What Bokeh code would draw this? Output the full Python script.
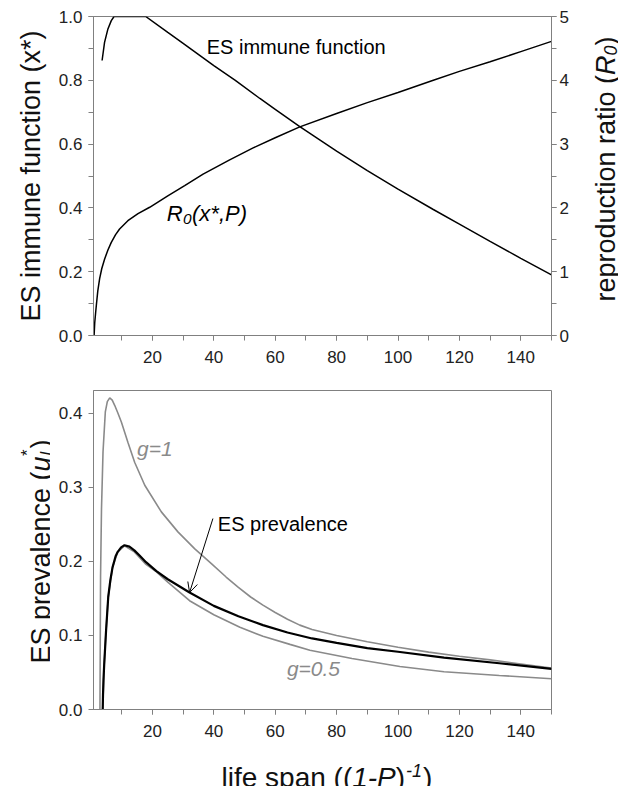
import math
from bokeh.plotting import figure
from bokeh.models import (Range1d, LinearAxis, SingleIntervalTicker, Label,
                          Arrow, OpenHead, PrintfTickFormatter)
from bokeh.layouts import column, row
from bokeh.embed import file_html
from bokeh.resources import INLINE

# ---------------- data ----------------
# top panel: ES immune function x* (left axis)
xs_life = [3.6, 4.4, 5.5, 6.6, 7.5, 10, 15, 17.8, 25, 30, 40, 47, 55, 60, 68,
           80, 90, 100, 111.5, 120, 130, 140, 150]
xs_val = [0.862, 0.919, 0.961, 0.987, 1.0, 1.0, 1.0, 1.0, 0.950, 0.916, 0.846,
          0.800, 0.743, 0.709, 0.655, 0.578, 0.517, 0.459, 0.395, 0.349, 0.295,
          0.242, 0.190]

# top panel: reproduction ratio R0 (right axis)
r0_life = [1.0, 1.2, 1.5, 1.72, 2.2, 2.8, 3.5, 4.43, 5.5, 6.6, 8, 9.3, 12, 15.3,
           19.1, 25, 30.5, 36.5, 45, 52.8, 60, 68, 80, 90, 100, 111.5, 120, 130,
           140, 150]
r0_val = [0.0, 0.2, 0.36, 0.47, 0.70, 0.89, 1.05, 1.20, 1.34, 1.46, 1.58, 1.67,
          1.80, 1.91, 2.01, 2.19, 2.35, 2.53, 2.75, 2.94, 3.10, 3.27, 3.48, 3.65,
          3.81, 4.00, 4.14, 4.29, 4.45, 4.61]

# bottom panel: ES prevalence (black)
es_life = [3.8, 3.9, 4.05, 4.3, 4.9, 5.6, 6.3, 7.0, 8.0, 8.7, 9.8, 10.9, 12.5,
           14.1, 15.8, 17.9, 21.3, 25, 32.1, 40, 48, 56, 64, 72, 80, 90, 100,
           115, 133, 150]
es_val = [0.0, 0.02, 0.04, 0.062, 0.107, 0.152, 0.175, 0.192, 0.207, 0.213,
          0.219, 0.222, 0.220, 0.215, 0.208, 0.199, 0.187, 0.176, 0.158, 0.140,
          0.126, 0.114, 0.104, 0.096, 0.090, 0.083, 0.078, 0.070, 0.0625, 0.055]

# bottom panel: g = 1 (grey, upper)
g1_life = [2.9, 3.0, 3.1, 3.4, 3.9, 4.65, 5.3, 6.08, 6.9, 7.7, 8.8, 9.9, 12.0,
           14.2, 17.5, 22.9, 28.3, 33.8, 39.2, 44, 48, 52, 56, 60, 64, 68, 72,
           80, 90, 100, 110, 120, 130, 140, 150]
g1_val = [0.0, 0.09, 0.18, 0.27, 0.348, 0.402, 0.416, 0.421, 0.418, 0.411,
          0.400, 0.388, 0.361, 0.334, 0.303, 0.267, 0.240, 0.217, 0.197, 0.179,
          0.165, 0.152, 0.141, 0.131, 0.122, 0.114, 0.108, 0.100, 0.0915, 0.084,
          0.0775, 0.072, 0.067, 0.0615, 0.056]

# bottom panel: g = 0.5 (grey, lower)
g05_life = [3.8, 4.3, 4.9, 5.6, 7.0, 8.7, 10.9, 14.1, 17.9, 21.3, 25, 32.1, 40,
            48.5, 56, 64.8, 71.3, 85, 100.6, 115, 133, 150]
g05_val = [0.0, 0.062, 0.107, 0.152, 0.192, 0.213, 0.221, 0.213, 0.196, 0.186,
           0.172, 0.147, 0.128, 0.111, 0.099, 0.088, 0.080, 0.069, 0.058, 0.051,
           0.046, 0.0415]

# annotation anchors (data units)
lbl_immune = (37.7, 0.903)
lbl_r0 = (24.7, 0.382)
lbl_g1 = (15.0, 0.352)
lbl_g05 = (63.8, 0.055)
lbl_prev = (41.3, 0.251)
arrow_from = (39.7, 0.258)
arrow_to = (32.1, 0.158)

X_RANGE = (0.8, 150)
FONT = "Arial"
AXC = "#808080"
GREY = "#8a8a8a"
TXT = "#111111"
UP = math.pi / 2


def style_axis(ax, label_size="27px"):
    ax.axis_line_color = AXC
    ax.major_tick_line_color = AXC
    ax.minor_tick_line_color = AXC
    ax.major_tick_in = 0
    ax.major_tick_out = 5
    ax.minor_tick_in = 0
    ax.minor_tick_out = 5
    ax.major_label_text_font = FONT
    ax.major_label_text_font_size = "17px"
    ax.major_label_text_color = "#222222"
    ax.axis_label_text_font = FONT
    ax.axis_label_text_font_size = label_size
    ax.axis_label_text_font_style = "normal"
    ax.axis_label_text_color = TXT


def text(p, x, y, s, size, style="normal", color=TXT, angle=0.0, **kw):
    p.add_layout(Label(x=x, y=y, text=s, text_font=FONT, text_font_size=size,
                       text_font_style=style, text_color=color, angle=angle,
                       **kw))


def strip(width, height):
    s = figure(frame_width=width, frame_height=height,
               x_range=Range1d(0, width), y_range=Range1d(0, height),
               x_axis_type=None, y_axis_type=None,
               output_backend="svg", toolbar_location=None,
               min_border=0, min_border_left=0, min_border_right=0,
               min_border_top=0, min_border_bottom=0)
    s.outline_line_color = None
    if "frame_align" in s.properties():
        s.frame_align = False
    return s


def vtext(p, x, y, s, size, style="normal"):
    text(p, x, y, s, size, style=style, angle=UP, text_align="left",
         text_baseline="alphabetic")


# ---------------- top panel ----------------
p1 = figure(width=588, height=378, x_range=X_RANGE, y_range=Range1d(0, 1),
            output_backend="svg", toolbar_location=None,
            min_border_left=93, min_border_right=37, min_border_top=16,
            min_border_bottom=43)
p1.extra_y_ranges = {"r0": Range1d(0, 5)}
p1.grid.visible = False
p1.outline_line_color = AXC

p1.xaxis.ticker = SingleIntervalTicker(interval=20, num_minor_ticks=2)
p1.yaxis.ticker = SingleIntervalTicker(interval=0.2, num_minor_ticks=2)
p1.yaxis.formatter = PrintfTickFormatter(format="%.1f")
p1.yaxis.axis_label = "ES immune function (x*)"
p1.yaxis.axis_label_standoff = 10
p1.yaxis.major_label_standoff = 6
p1.xaxis.major_label_standoff = 10
for ax in p1.xaxis + p1.yaxis:
    style_axis(ax)

rax = LinearAxis(y_range_name="r0",
                 ticker=SingleIntervalTicker(interval=1, num_minor_ticks=2))
style_axis(rax)
rax.major_label_standoff = 3
p1.add_layout(rax, "right")

p1.line(xs_life, xs_val, line_color="black", line_width=1.5)
p1.line(r0_life, r0_val, line_color="black", line_width=1.5, y_range_name="r0")

text(p1, lbl_immune[0], lbl_immune[1], "ES immune function", "20px",
     color="black", text_baseline="middle")
text(p1, lbl_r0[0], lbl_r0[1], "R\u2080(x*,P)", "22px", style="italic",
     color="black", text_baseline="middle")

# right-hand axis title, reading bottom-to-top
pr = strip(30, 378)
rb, r_y0 = 17, 77
vtext(pr, rb, r_y0, "reproduction ratio (", "27px")
vtext(pr, rb, r_y0 + 226.6, "R", "27px", "italic")
vtext(pr, rb + 5, r_y0 + 246.1, "0", "18px", "italic")
vtext(pr, rb, r_y0 + 256.1, ")", "27px")

# ---------------- bottom panel ----------------
p2 = figure(width=568, height=369, x_range=X_RANGE, y_range=Range1d(0, 0.431),
            output_backend="svg", toolbar_location=None,
            min_border_left=43, min_border_right=67, min_border_top=12,
            min_border_bottom=38)
p2.grid.visible = False
p2.outline_line_color = AXC
p2.xaxis.ticker = SingleIntervalTicker(interval=20, num_minor_ticks=2)
p2.yaxis.ticker = SingleIntervalTicker(interval=0.1, num_minor_ticks=0)
p2.yaxis.formatter = PrintfTickFormatter(format="%.1f")
p2.yaxis.major_label_standoff = 6
p2.xaxis.major_label_standoff = 10
for ax in p2.xaxis + p2.yaxis:
    style_axis(ax)

p2.line(g1_life, g1_val, line_color=GREY, line_width=1.6)
p2.line(g05_life, g05_val, line_color=GREY, line_width=1.6)
p2.line(es_life, es_val, line_color="black", line_width=2.2)

text(p2, lbl_g1[0], lbl_g1[1], "g=1", "21px", style="italic", color=GREY,
     text_baseline="middle")
text(p2, lbl_g05[0], lbl_g05[1], "g=0.5", "21px", style="italic", color=GREY,
     text_baseline="middle")
text(p2, lbl_prev[0], lbl_prev[1], "ES prevalence", "20px", color="black",
     text_baseline="middle")
p2.add_layout(Arrow(end=OpenHead(size=10, line_width=1, line_color="black"),
                    x_start=arrow_from[0], y_start=arrow_from[1],
                    x_end=arrow_to[0], y_end=arrow_to[1],
                    line_width=1, line_color="black"))

# left axis title of the bottom panel: ES prevalence (u_I*)
pl = strip(50, 379)
lb, l_y0 = 40, 94
vtext(pl, lb, l_y0, "ES prevalence (", "27px")
vtext(pl, lb, l_y0 + 192.1, "u", "27px", "italic")
vtext(pl, lb + 6, l_y0 + 207.6, "I", "17px", "italic")
vtext(pl, lb - 13, l_y0 + 207.6, "*", "17px")
vtext(pl, lb, l_y0 + 215.0, ")", "27px")

# x-axis title with italic parts and superscript
px = strip(618, 29)
bx, by, sy = 221, 9.0, 16.5
text(px, bx, by, "life span ((", "28px", text_baseline="alphabetic")
text(px, bx + 130.7, by, "1-P", "28px", style="italic", text_baseline="alphabetic")
text(px, bx + 174.3, by, ")", "28px", text_baseline="alphabetic")
text(px, bx + 184.6, sy, "-1", "18px", style="italic", text_baseline="alphabetic")
text(px, bx + 201.4, by, ")", "28px", text_baseline="alphabetic")

layout = column(row(p1, pr), row(pl, p2), px)
open("out.html", "w").write(file_html(layout, INLINE))
